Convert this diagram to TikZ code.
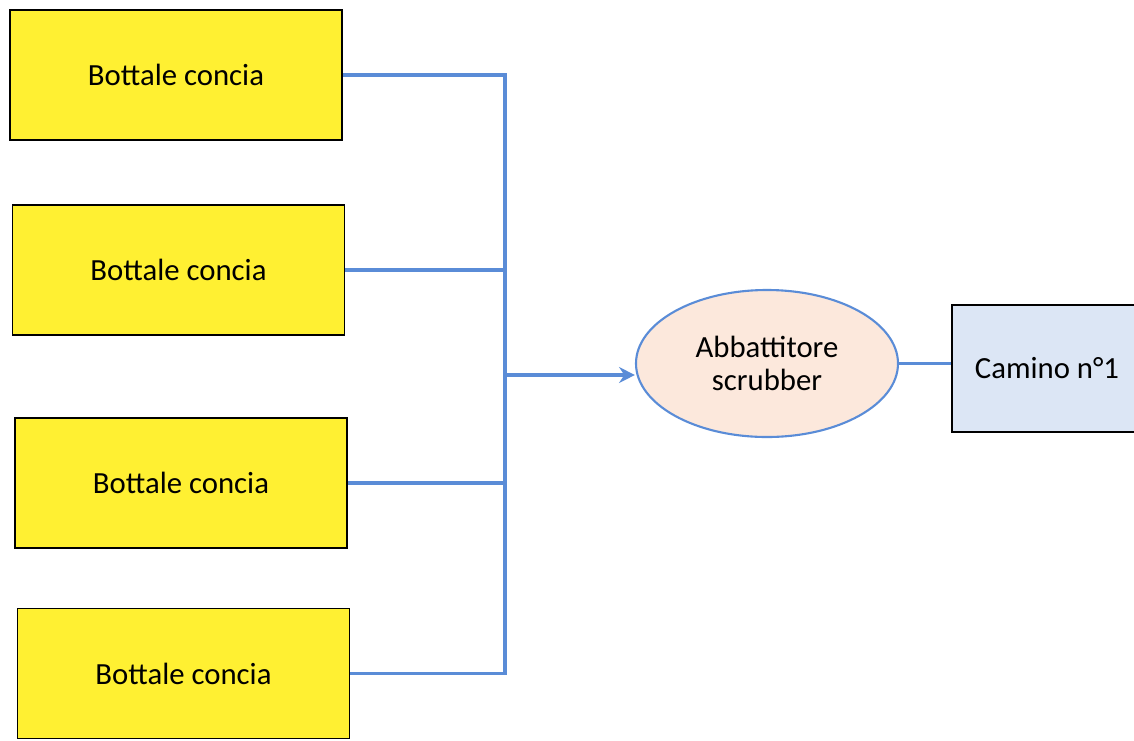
\documentclass[tikz,border=0pt]{standalone}
\usepackage{fontspec}
\setmainfont{Carlito}
\usepackage{tikz}
\usetikzlibrary{arrows.meta,shapes.geometric}

\definecolor{tankyellow}{RGB}{255,240,50}
\definecolor{scrubfill}{RGB}{252,232,220}
\definecolor{stackfill}{RGB}{220,230,245}
\definecolor{pipeblue}{RGB}{90,140,215}

\begin{document}
\begin{tikzpicture}[
    tank/.style={draw=black, line width=1.1pt, fill=tankyellow, minimum width=6.64cm, minimum height=2.6cm, font=\fontsize{17.5}{19}\selectfont},
    scrub/.style={ellipse, draw=pipeblue, line width=1.2pt, fill=scrubfill, minimum width=5.24cm, minimum height=2.94cm, align=center, font=\fontsize{17.5}{19}\selectfont},
    stack/.style={draw=black, line width=1.1pt, fill=stackfill, minimum width=3.8cm, minimum height=2.54cm, font=\fontsize{17.5}{19}\selectfont},
    pipe/.style={draw=pipeblue, line width=1.8pt}
  ]
            \useasboundingbox (0,0) rectangle (22.68,-14.8);
            \node[tank] (t1) at (3.52,-1.5) {Bottale concia};
            \node[tank] (t2) at (3.57,-5.4) {Bottale concia};
            \node[tank] (t3) at (3.62,-9.66) {Bottale concia};
            \node[tank] (t4) at (3.67,-13.47) {Bottale concia};
            \node[scrub] (scr) at (15.34,-7.27) {Abbattitore\\scrubber};
            \node[stack] (cam) at (20.94,-7.37) {Camino n°1};
            \coordinate (bus) at (10.1,-7.5);
            % collettore
            \draw[pipe] (t1.east) -- (t1.east -| bus) -- (t4.east -| bus) -- (t4.east);
            \draw[pipe] (t2.east) -- (t2.east -| bus);
            \draw[pipe] (t3.east) -- (t3.east -| bus);
            \draw[pipe, -{Stealth[length=9pt, width=9pt]}] (bus) -- (bus -| scr.west);
            \draw[pipe] (scr.east) -- (scr.east -| cam.west);
        \end{tikzpicture}
\end{document}
